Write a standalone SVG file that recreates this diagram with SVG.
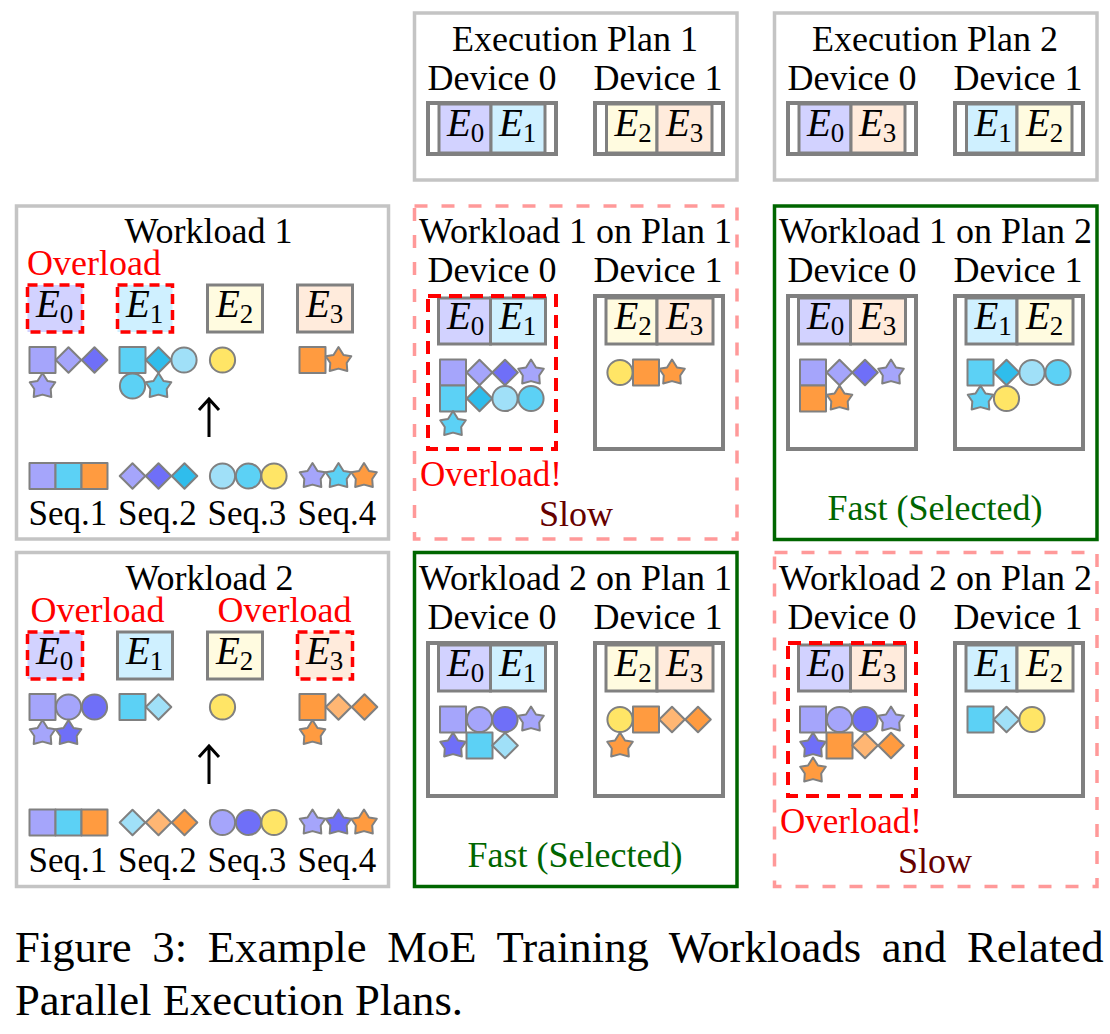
<svg xmlns="http://www.w3.org/2000/svg" width="1110" height="1034" viewBox="0 0 1110 1034">
<style>
text{font-family:"Liberation Serif","Times New Roman",serif;fill:#000;font-size:36px}
.m{text-anchor:middle}
.q{font-size:35px}
.r{fill:#f00}
.x{font-size:35px}
.sl{fill:#600}
.fa{fill:#060}
.cap{font-size:44.7px}
.e{font-size:39px;font-style:italic}
.e tspan{font-size:27px;font-style:normal}
.pg{fill:#fff;stroke:#c4c4c4;stroke-width:3.5}
.pr{fill:#fff;stroke:#f99;stroke-width:3.5;stroke-dasharray:13 14}
.pf{fill:#fff;stroke:#060;stroke-width:3.5}
.dev{fill:#fff;stroke:#808080;stroke-width:4}
.over{fill:none;stroke:#f00;stroke-width:4;stroke-dasharray:13 8}
.c{stroke:#808080;stroke-width:3}
.o{stroke:#f00;stroke-width:3.500;stroke-dasharray:10 6}
.c0{fill:#d2d2ff}.c1{fill:#cff0ff}.c2{fill:#fffbe0}.c3{fill:#ffebdc}
use{stroke:#808080;stroke-width:2;stroke-linejoin:round}
.p1{fill:#a5a5fb}.p2{fill:#6f6ff8}
.b1{fill:#a0e0f8}.b2{fill:#5cd1f5}.b3{fill:#2fbdec}
.y{fill:#ffe566}
.o1{fill:#ffb673}.o2{fill:#ff9b40}
.arrow{fill:none;stroke:#000;stroke-width:3}
</style>
<defs>
<rect id="sq" x="-13" y="-13" width="26" height="26"/>
<circle id="ci" r="12.6"/>
<polygon id="di" points="0,-12.8 12.8,0 0,12.8 -12.8,0"/>
<polygon id="st" points="0,-13 5,-5 12.800,-3.700 8.200,3 8.800,11 0,8.600 -8.800,11 -8.200,3 -12.800,-3.700 -5,-5"/>
</defs>

<g id="plan1">
<rect class="pg" x="414.5" y="13" width="322.500" height="167"/>
<text class="m" x="575" y="51">Execution Plan 1</text>
<text class="m" x="492" y="89.500">Device 0</text>
<text class="m" x="658" y="89.500">Device 1</text>
<rect class="dev" x="428" y="103" width="128" height="51"/>
<rect class="dev" x="595" y="103" width="128" height="51"/>
<rect class="c c0" x="439" y="104" width="52" height="49"/><rect class="c c1" x="491" y="104" width="54" height="49"/>
<rect class="c c2" x="606.500" y="104" width="50.500" height="49"/><rect class="c c3" x="657" y="104" width="55" height="49"/>
<text class="e" x="447" y="136">E<tspan dy="6">0</tspan></text><text class="e" x="499" y="136">E<tspan dy="6">1</tspan></text>
<text class="e" x="614.500" y="136">E<tspan dy="6">2</tspan></text><text class="e" x="666" y="136">E<tspan dy="6">3</tspan></text>
</g>

<g id="plan2">
<rect class="pg" x="774.5" y="13" width="322.500" height="167"/>
<text class="m" x="935" y="51">Execution Plan 2</text>
<text class="m" x="852" y="89.500">Device 0</text>
<text class="m" x="1018" y="89.500">Device 1</text>
<rect class="dev" x="788" y="103" width="128" height="51"/>
<rect class="dev" x="955" y="103" width="128" height="51"/>
<rect class="c c0" x="799" y="104" width="52" height="49"/><rect class="c c3" x="851" y="104" width="54" height="49"/>
<rect class="c c1" x="966.500" y="104" width="50.500" height="49"/><rect class="c c2" x="1017" y="104" width="55" height="49"/>
<text class="e" x="807" y="136">E<tspan dy="6">0</tspan></text><text class="e" x="859" y="136">E<tspan dy="6">3</tspan></text>
<text class="e" x="974.500" y="136">E<tspan dy="6">1</tspan></text><text class="e" x="1026" y="136">E<tspan dy="6">2</tspan></text>
</g>

<g id="workload1">
<rect class="pg" x="16.500" y="206" width="372" height="333"/>
<text class="m" x="208.500" y="243">Workload 1</text>
<text class="r" x="27" y="275">Overload</text>
<rect class="c0 o" x="27.500" y="285" width="55" height="47"/>
<rect class="c1 o" x="117.500" y="285" width="55" height="47"/>
<rect class="c2 c" x="207.500" y="285" width="55" height="47"/>
<rect class="c3 c" x="297.500" y="285" width="55" height="47"/>
<text class="e" x="36" y="317">E<tspan dy="6">0</tspan></text><text class="e" x="126" y="317">E<tspan dy="6">1</tspan></text>
<text class="e" x="216" y="317">E<tspan dy="6">2</tspan></text><text class="e" x="306" y="317">E<tspan dy="6">3</tspan></text>
<use href="#sq" class="p1" x="42.500" y="360"/><use href="#di" class="p1" x="68.500" y="360"/><use href="#di" class="p2" x="94.500" y="360"/><use href="#st" class="p1" x="42.500" y="386"/>
<use href="#sq" class="b2" x="132.500" y="360"/><use href="#di" class="b3" x="158.500" y="360"/><use href="#ci" class="b1" x="184" y="360"/><use href="#ci" class="b2" x="132.500" y="386"/><use href="#st" class="b2" x="158.500" y="386"/>
<use href="#ci" class="y" x="222.500" y="360"/>
<use href="#sq" class="o2" x="312.500" y="360"/><use href="#st" class="o2" x="338.500" y="360"/>
<use href="#sq" class="p1" x="42.500" y="476"/><use href="#sq" class="b2" x="68.500" y="476"/><use href="#sq" class="o2" x="94.500" y="476"/>
<use href="#di" class="p1" x="132.500" y="476"/><use href="#di" class="p2" x="158.500" y="476"/><use href="#di" class="b3" x="184.500" y="476"/>
<use href="#ci" class="b1" x="222.500" y="476"/><use href="#ci" class="b2" x="248.500" y="476"/><use href="#ci" class="y" x="274" y="476"/>
<use href="#st" class="p1" x="312.500" y="476"/><use href="#st" class="b2" x="338.500" y="476"/><use href="#st" class="o2" x="364" y="476"/>
<text class="q" x="28.500" y="525">Seq.1</text><text class="q" x="118" y="525">Seq.2</text><text class="q" x="207.500" y="525">Seq.3</text><text class="q" x="297.500" y="525">Seq.4</text>
</g>

<g id="workload2">
<rect class="pg" x="16.500" y="552.500" width="372" height="334"/>
<text class="m" x="209.500" y="590">Workload 2</text>
<text class="r" x="30.500" y="622">Overload</text>
<text class="r" x="217.500" y="622">Overload</text>
<rect class="c0 o" x="27.500" y="632" width="55" height="47"/>
<rect class="c1 c" x="117.500" y="632" width="55" height="47"/>
<rect class="c2 c" x="207.500" y="632" width="55" height="47"/>
<rect class="c3 o" x="297.500" y="632" width="55" height="47"/>
<text class="e" x="36" y="664">E<tspan dy="6">0</tspan></text><text class="e" x="126" y="664">E<tspan dy="6">1</tspan></text>
<text class="e" x="216" y="664">E<tspan dy="6">2</tspan></text><text class="e" x="306" y="664">E<tspan dy="6">3</tspan></text>
<use href="#sq" class="p1" x="42.500" y="707"/><use href="#ci" class="p1" x="68.500" y="707"/><use href="#ci" class="p2" x="94.500" y="707"/><use href="#st" class="p1" x="42.500" y="733"/><use href="#st" class="p2" x="68.500" y="733"/>
<use href="#sq" class="b2" x="132.500" y="707"/><use href="#di" class="b1" x="158.500" y="707"/>
<use href="#ci" class="y" x="222.500" y="707"/>
<use href="#sq" class="o2" x="312.500" y="707"/><use href="#di" class="o1" x="338.500" y="707"/><use href="#di" class="o2" x="364.500" y="707"/><use href="#st" class="o2" x="312.500" y="733"/>
<use href="#sq" class="p1" x="42.500" y="822.500"/><use href="#sq" class="b2" x="68.500" y="822.500"/><use href="#sq" class="o2" x="94.500" y="822.500"/>
<use href="#di" class="b1" x="132.500" y="822.500"/><use href="#di" class="o1" x="158.500" y="822.500"/><use href="#di" class="o2" x="184.500" y="822.500"/>
<use href="#ci" class="p1" x="222.500" y="822.500"/><use href="#ci" class="p2" x="248.500" y="822.500"/><use href="#ci" class="y" x="274" y="822.500"/>
<use href="#st" class="p1" x="312.500" y="822.500"/><use href="#st" class="p2" x="338.500" y="822.500"/><use href="#st" class="o2" x="364" y="822.500"/>
<text class="q" x="28.500" y="872">Seq.1</text><text class="q" x="118" y="872">Seq.2</text><text class="q" x="207.500" y="872">Seq.3</text><text class="q" x="297.500" y="872">Seq.4</text>
</g>

<g id="w1p1">
<rect class="pr" x="414.5" y="206" width="322.500" height="333"/>
<text class="m" x="575.500" y="243">Workload 1 on Plan 1</text>
<text class="m" x="492" y="281.500">Device 0</text>
<text class="m" x="658" y="281.500">Device 1</text>
<rect class="dev" x="595" y="296" width="128" height="153"/>
<rect class="c c0" x="438.500" y="298" width="52" height="46"/><rect class="c c1" x="490.500" y="298" width="55" height="46"/>
<rect class="c c2" x="606" y="298" width="51" height="46"/><rect class="c c3" x="657" y="298" width="56" height="46"/>
<text class="e" x="447" y="329">E<tspan dy="6">0</tspan></text><text class="e" x="499" y="329">E<tspan dy="6">1</tspan></text>
<text class="e" x="614.500" y="329">E<tspan dy="6">2</tspan></text><text class="e" x="666" y="329">E<tspan dy="6">3</tspan></text>
<use href="#sq" class="p1" x="453" y="372.500"/><use href="#di" class="p1" x="479.500" y="372.500"/><use href="#di" class="p2" x="505" y="372.500"/><use href="#st" class="p1" x="531" y="372.500"/>
<use href="#sq" class="b2" x="453" y="398.500"/><use href="#di" class="b3" x="479.500" y="398.500"/><use href="#ci" class="b1" x="505" y="398.500"/><use href="#ci" class="b2" x="531" y="398.500"/>
<use href="#st" class="b2" x="453" y="424"/>
<use href="#ci" class="y" x="620" y="372.500"/><use href="#sq" class="o2" x="646" y="372.500"/><use href="#st" class="o2" x="672" y="372.500"/>
<rect class="over" x="428" y="296" width="128" height="153"/>
<text class="r x" x="420" y="486">Overload!</text>
<text class="m sl" x="576" y="526">Slow</text>
</g>

<g id="w1p2">
<rect class="pf" x="774.5" y="206" width="322.500" height="333.500"/>
<text class="m" x="935.500" y="242.500">Workload 1 on Plan 2</text>
<text class="m" x="852" y="281.500">Device 0</text>
<text class="m" x="1018" y="281.500">Device 1</text>
<rect class="dev" x="788" y="296" width="128" height="153"/>
<rect class="dev" x="955" y="296" width="128" height="153"/>
<rect class="c c0" x="798.500" y="298" width="52" height="46"/><rect class="c c3" x="850.500" y="298" width="55" height="46"/>
<rect class="c c1" x="966" y="298" width="51" height="46"/><rect class="c c2" x="1017" y="298" width="56" height="46"/>
<text class="e" x="807" y="329">E<tspan dy="6">0</tspan></text><text class="e" x="859" y="329">E<tspan dy="6">3</tspan></text>
<text class="e" x="974.500" y="329">E<tspan dy="6">1</tspan></text><text class="e" x="1026" y="329">E<tspan dy="6">2</tspan></text>
<use href="#sq" class="p1" x="813" y="372.500"/><use href="#di" class="p1" x="839.500" y="372.500"/><use href="#di" class="p2" x="865" y="372.500"/><use href="#st" class="p1" x="891" y="372.500"/>
<use href="#sq" class="o2" x="813" y="398.500"/><use href="#st" class="o2" x="839.500" y="398.500"/>
<use href="#sq" class="b2" x="980.500" y="372.500"/><use href="#di" class="b3" x="1006.500" y="372.500"/><use href="#ci" class="b1" x="1032" y="372.500"/><use href="#ci" class="b2" x="1058" y="372.500"/>
<use href="#st" class="b2" x="980.500" y="398.500"/><use href="#ci" class="y" x="1006.500" y="398.500"/>
<text class="m fa" x="935" y="520">Fast (Selected)</text>
</g>

<g id="w2p1">
<rect class="pf" x="414.5" y="552.500" width="322.500" height="334"/>
<text class="m" x="575.500" y="590">Workload 2 on Plan 1</text>
<text class="m" x="492" y="629">Device 0</text>
<text class="m" x="658" y="629">Device 1</text>
<rect class="dev" x="428" y="643" width="128" height="153"/>
<rect class="dev" x="595" y="643" width="128" height="153"/>
<rect class="c c0" x="438.500" y="645" width="52" height="46"/><rect class="c c1" x="490.500" y="645" width="55" height="46"/>
<rect class="c c2" x="606" y="645" width="51" height="46"/><rect class="c c3" x="657" y="645" width="56" height="46"/>
<text class="e" x="447" y="676">E<tspan dy="6">0</tspan></text><text class="e" x="499" y="676">E<tspan dy="6">1</tspan></text>
<text class="e" x="614.500" y="676">E<tspan dy="6">2</tspan></text><text class="e" x="666" y="676">E<tspan dy="6">3</tspan></text>
<use href="#sq" class="p1" x="453" y="719.500"/><use href="#ci" class="p1" x="479.500" y="719.500"/><use href="#ci" class="p2" x="505" y="719.500"/><use href="#st" class="p1" x="531" y="719.500"/>
<use href="#st" class="p2" x="453" y="745.500"/><use href="#sq" class="b2" x="479.500" y="745.500"/><use href="#di" class="b1" x="505" y="745.500"/>
<use href="#ci" class="y" x="620" y="719.500"/><use href="#sq" class="o2" x="646" y="719.500"/><use href="#di" class="o1" x="672" y="719.500"/><use href="#di" class="o2" x="698" y="719.500"/>
<use href="#st" class="o2" x="620" y="745.500"/>
<text class="m fa" x="575" y="867">Fast (Selected)</text>
</g>

<g id="w2p2">
<rect class="pr" x="774.5" y="552.500" width="322.500" height="334"/>
<text class="m" x="935.500" y="590">Workload 2 on Plan 2</text>
<text class="m" x="852" y="629">Device 0</text>
<text class="m" x="1018" y="629">Device 1</text>
<rect class="dev" x="955" y="643" width="128" height="153"/>
<rect class="c c0" x="798.500" y="645" width="52" height="46"/><rect class="c c3" x="850.500" y="645" width="55" height="46"/>
<rect class="c c1" x="966" y="645" width="51" height="46"/><rect class="c c2" x="1017" y="645" width="56" height="46"/>
<text class="e" x="807" y="676">E<tspan dy="6">0</tspan></text><text class="e" x="859" y="676">E<tspan dy="6">3</tspan></text>
<text class="e" x="974.500" y="676">E<tspan dy="6">1</tspan></text><text class="e" x="1026" y="676">E<tspan dy="6">2</tspan></text>
<use href="#sq" class="p1" x="813" y="719.500"/><use href="#ci" class="p1" x="839.500" y="719.500"/><use href="#ci" class="p2" x="865" y="719.500"/><use href="#st" class="p1" x="891" y="719.500"/>
<use href="#st" class="p2" x="813" y="745.500"/><use href="#sq" class="o2" x="839.500" y="745.500"/><use href="#di" class="o1" x="865" y="745.500"/><use href="#di" class="o2" x="891" y="745.500"/>
<use href="#st" class="o2" x="813" y="770.500"/>
<use href="#sq" class="b2" x="980.500" y="719.500"/><use href="#di" class="b1" x="1006.500" y="719.500"/><use href="#ci" class="y" x="1032" y="719.500"/>
<rect class="over" x="788" y="643" width="128" height="153"/>
<text class="r x" x="780" y="833">Overload!</text>
<text class="m sl" x="935" y="873">Slow</text>
</g>

<g id="caption">
<text class="cap" x="15" y="962" word-spacing="9.500">Figure 3: Example MoE Training Workloads and Related</text>
<text class="cap" x="15" y="1015">Parallel Execution Plans.</text>
</g>

<g id="connectors">
<path class="arrow" d="M209 437V400M199 410L209 399L219 410"/>
<path class="arrow" d="M209 784V747M199 757L209 746L219 757"/>
</g>
</svg>
